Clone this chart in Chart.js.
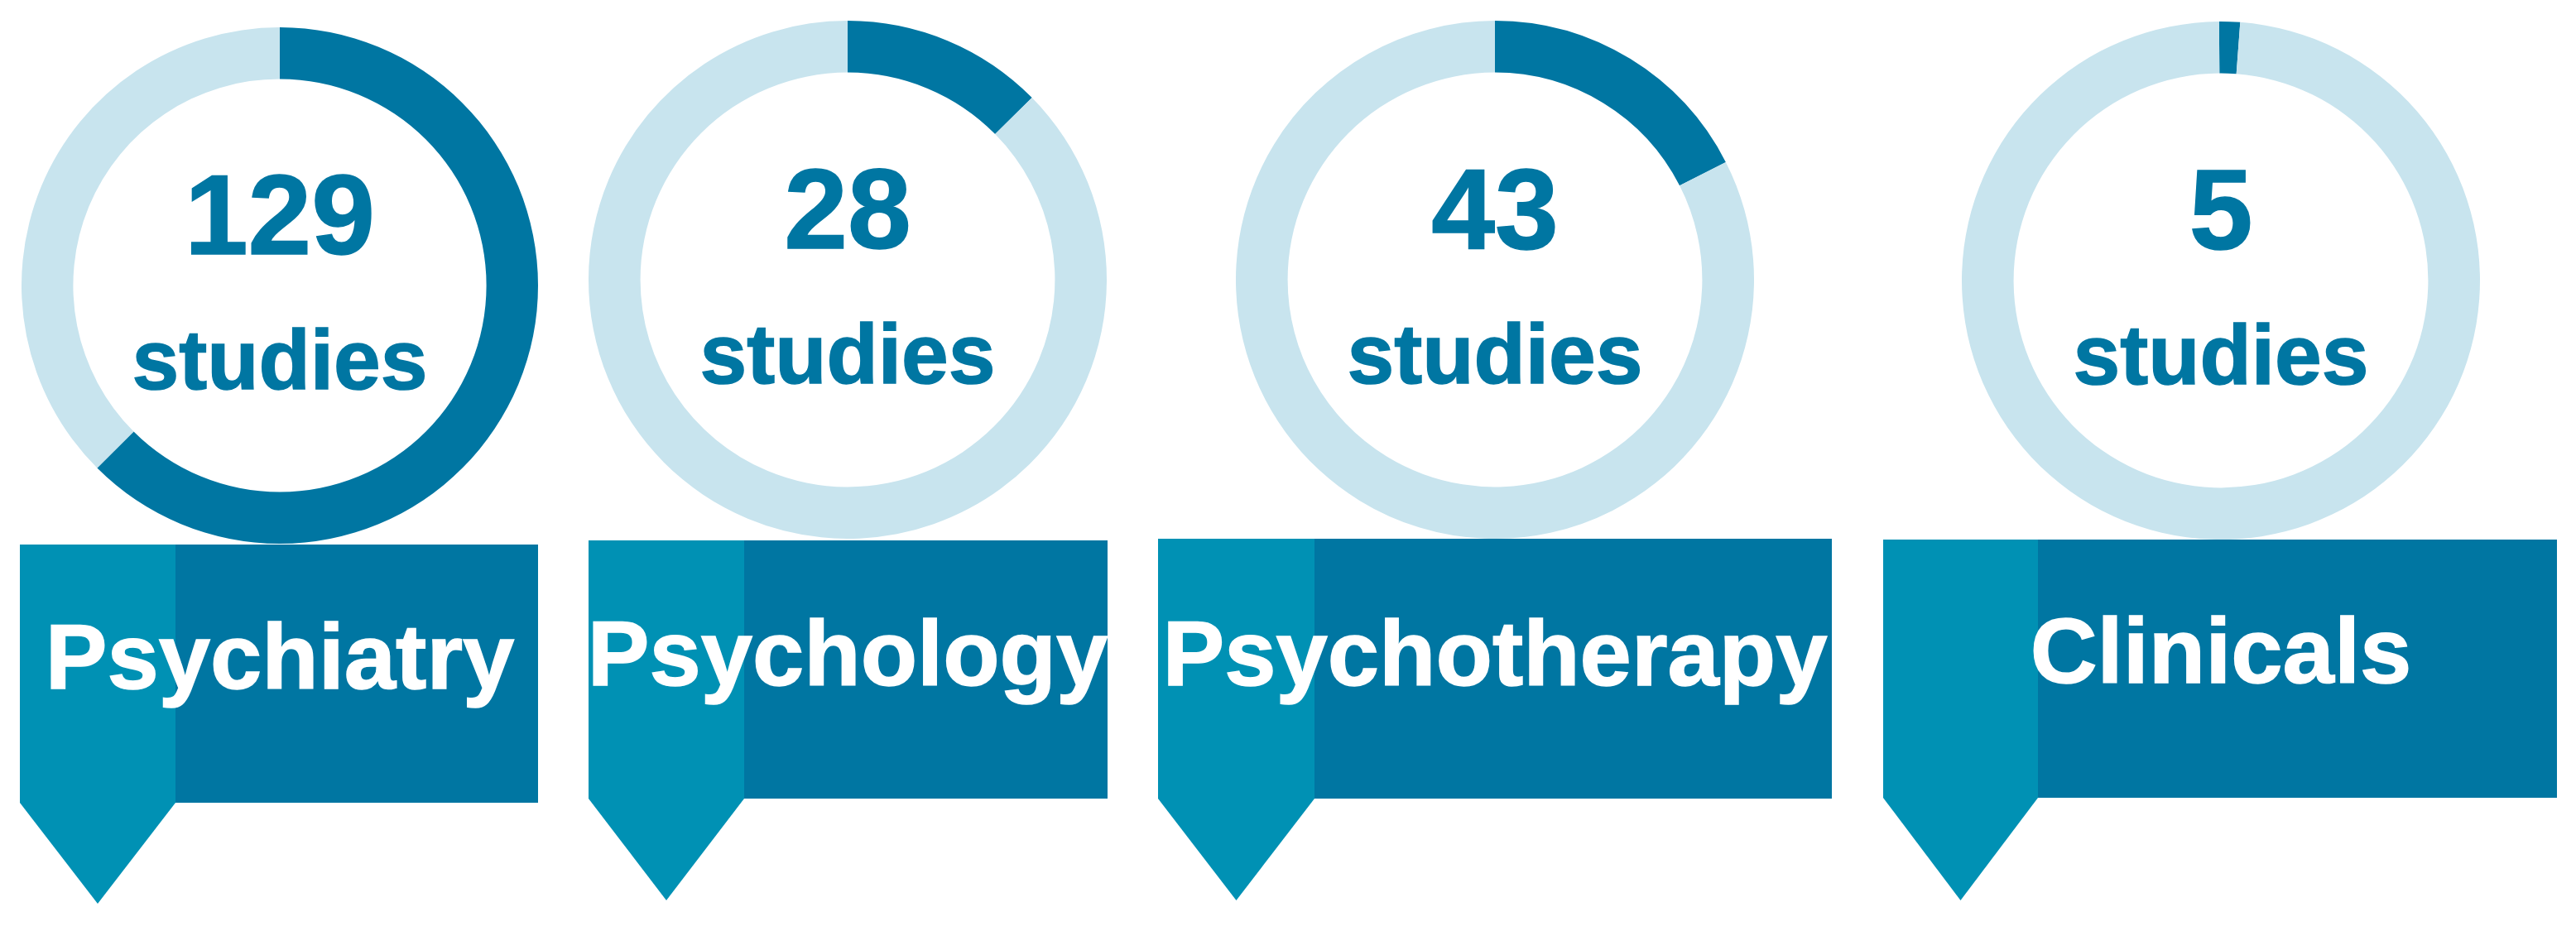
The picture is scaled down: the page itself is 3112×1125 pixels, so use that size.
<!DOCTYPE html>
<html>
<head>
<meta charset="utf-8">
<script src="https://cdn.jsdelivr.net/npm/chart.js@4.4.1/dist/chart.umd.min.js"></script>
<style>
  body {
    margin: 0;
    width: 3112px;
    height: 1125px;
    background: #fff;
    overflow: hidden;
    position: relative;
    font-family: "Liberation Sans", Arial, sans-serif;
    font-weight: bold;
  }
  .ring { position: absolute; }
  .txt {
    position: absolute;
    white-space: nowrap;
    line-height: 1;
    transform: translateX(-50%);
    -webkit-text-stroke: 1.5px currentColor;
  }
  .banner { position: absolute; background: #0076a2; }
  .strip { position: absolute; background: #0091b4; }
</style>
</head>
<body>
<script>
// data
const categories = ["Psychiatry", "Psychology", "Psychotherapy", "Clinicals"];
const studies = [129, 28, 43, 5];
// share of each ring that is dark, and the light rest (percent of the circle)
const ringShare = [62.5, 12.6, 17.5, 1.3];
const ringRest = [37.5, 87.4, 82.5, 98.7];

const DARK = "#0076a2";
const LIGHT = "#c8e4ee";
const STRIP = "#0091b4";

// layout (pixels)
const rings = [
  { cx: 338, cy: 345, r: 312, rot: 0 },
  { cx: 1024, cy: 338, r: 313, rot: 0 },
  { cx: 1806, cy: 338, r: 313, rot: 0 },
  { cx: 2683, cy: 339, r: 313, rot: -0.4 },
];
const banners = [
  { x: 24, w: 626, top: 658, bottom: 970, tip: 1092, strip: 188, base: 833 },
  { x: 711, w: 627, top: 653, bottom: 965, tip: 1088, strip: 188, base: 829 },
  { x: 1399, w: 814, top: 651, bottom: 965, tip: 1088, strip: 189, base: 829 },
  { x: 2275, w: 814, top: 652, bottom: 964, tip: 1088, strip: 187, base: 826 },
];

function addText(str, cx, baseline, size, color) {
  const d = document.createElement("div");
  d.className = "txt";
  d.textContent = str;
  d.style.fontSize = size + "px";
  d.style.color = color;
  d.style.left = cx + "px";
  d.style.top = (baseline - 0.8465 * size) + "px";
  document.body.appendChild(d);
}

categories.forEach((cat, i) => {
  const g = rings[i];
  const b = banners[i];

  // banner with pointer
  const rect = document.createElement("div");
  rect.className = "banner";
  rect.style.left = b.x + "px";
  rect.style.top = b.top + "px";
  rect.style.width = b.w + "px";
  rect.style.height = (b.bottom - b.top) + "px";
  document.body.appendChild(rect);

  const strip = document.createElement("div");
  strip.className = "strip";
  const rectH = b.bottom - b.top;
  strip.style.left = b.x + "px";
  strip.style.top = b.top + "px";
  strip.style.width = b.strip + "px";
  strip.style.height = (b.tip - b.top) + "px";
  strip.style.clipPath = `polygon(0 0, 100% 0, 100% ${rectH}px, 50% 100%, 0 ${rectH}px)`;
  document.body.appendChild(strip);

  addText(cat, g.cx, b.base, 112, "#fff");

  // doughnut ring
  const box = document.createElement("div");
  box.className = "ring";
  box.style.left = (g.cx - g.r) + "px";
  box.style.top = (g.cy - g.r) + "px";
  box.style.width = 2 * g.r + "px";
  box.style.height = 2 * g.r + "px";
  const cv = document.createElement("canvas");
  box.appendChild(cv);
  document.body.appendChild(box);

  new Chart(cv, {
    type: "doughnut",
    data: {
      labels: [cat, "other"],
      datasets: [{
        data: [ringShare[i], ringRest[i]],
        backgroundColor: [DARK, LIGHT],
        borderWidth: 0,
      }],
    },
    options: {
      responsive: true,
      maintainAspectRatio: false,
      animation: false,
      rotation: g.rot,
      cutout: "80%",
      layout: { padding: 0 },
      plugins: { legend: { display: false }, tooltip: { enabled: false } },
    },
  });

  addText(String(studies[i]), g.cx, g.cy - 38, 138, DARK);
  addText("studies", g.cx, g.cy + 125, 102, DARK);
});
</script>
</body>
</html>
